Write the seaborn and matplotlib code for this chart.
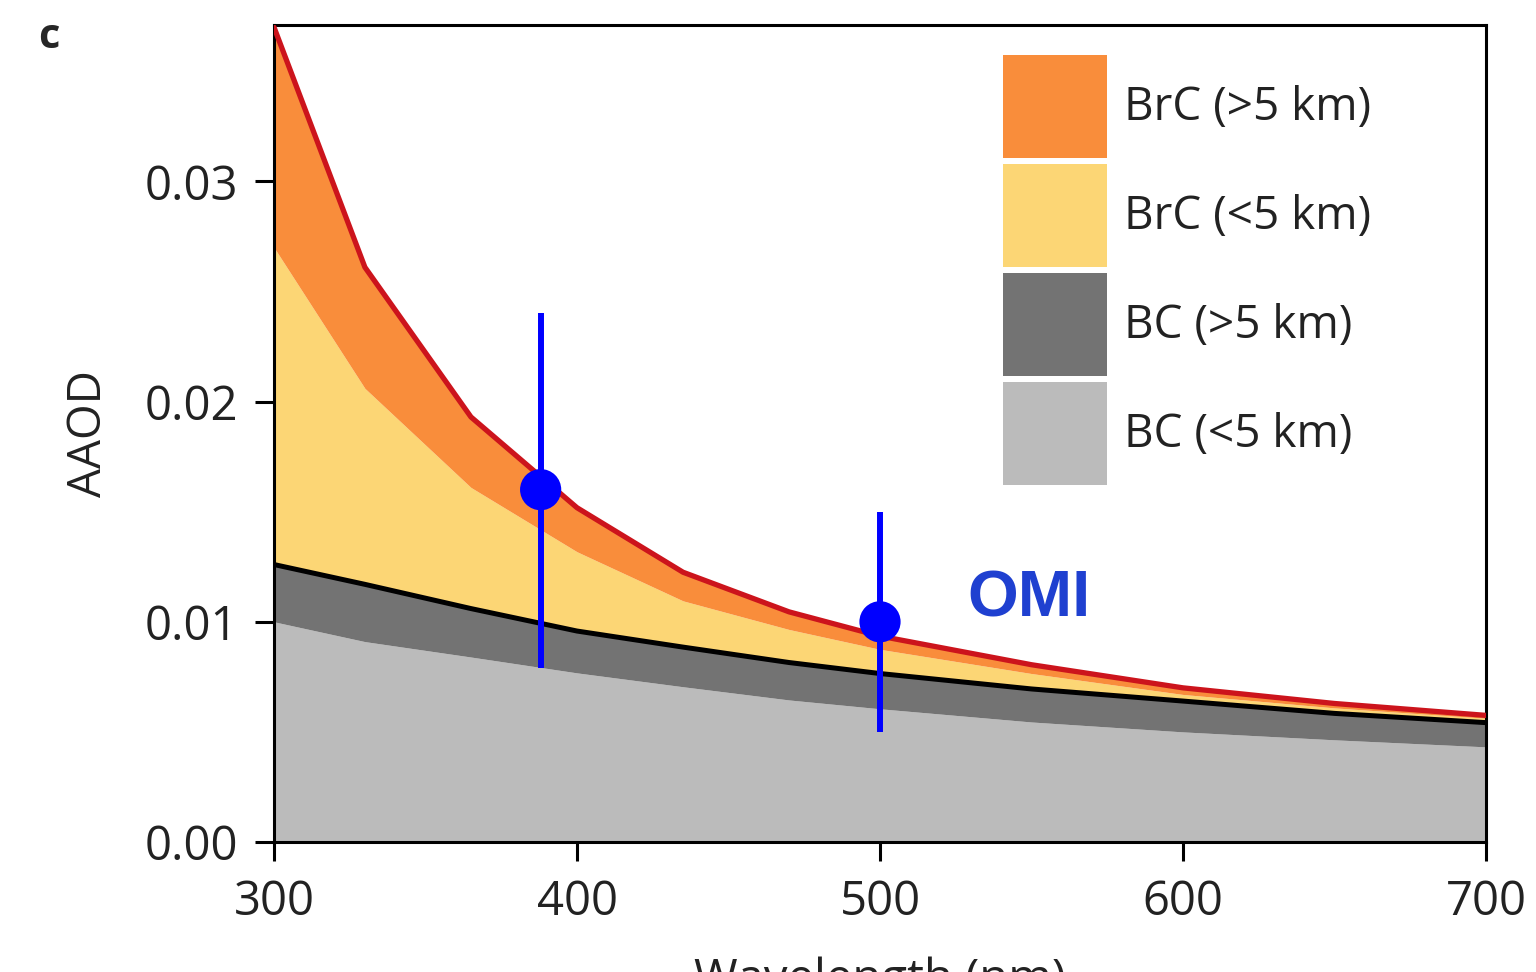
import numpy as np
import pandas as pd
import matplotlib
matplotlib.use("Agg")
import matplotlib.pyplot as plt
import seaborn as sns
from matplotlib.patches import Patch

# Absorption AOD contributions by species and altitude range
wavelength = [300, 330, 365, 400, 435, 470, 500, 550, 600, 650, 700]
bc_low = [0.0100, 0.0091, 0.0084, 0.00768, 0.00705, 0.00645, 0.00605, 0.00545, 0.0050, 0.00464, 0.00432]
bc_high = [0.0026, 0.0026, 0.0022, 0.0019, 0.0018, 0.0017, 0.0016, 0.0015, 0.0014, 0.0012, 0.0011]
brc_low = [0.0144, 0.0089, 0.0055, 0.0036, 0.0021, 0.0015, 0.0011, 0.0007, 0.0003, 0.00025, 0.0002]
brc_high = [0.0100, 0.0055, 0.0032, 0.0020, 0.0013, 0.0008, 0.0006, 0.0004, 0.0003, 0.0002, 0.00013]

# OMI retrievals with ranges
omi_wavelength = [388, 500]
omi_aaod = [0.016, 0.010]
omi_low = [0.0079, 0.0050]
omi_high = [0.0240, 0.0150]

layer_labels = ["BC (<5 km)", "BC (>5 km)", "BrC (<5 km)", "BrC (>5 km)"]
layer_colors = ["#bbbbbb", "#737373", "#fcd675", "#f98d3b"]

df = pd.DataFrame({
    "wavelength": wavelength,
    "BC (<5 km)": bc_low,
    "BC (>5 km)": bc_high,
    "BrC (<5 km)": brc_low,
    "BrC (>5 km)": brc_high,
})
df["bc_total"] = df["BC (<5 km)"] + df["BC (>5 km)"]
df["total"] = df[layer_labels].sum(axis=1)

sns.set_theme(style="ticks")
plt.rcParams["font.family"] = ["Open Sans", "DejaVu Sans"]

fig = plt.figure(figsize=(15.36, 9.72), dpi=100)
ax = fig.add_axes([274 / 1536, 1 - 842 / 972, (1486 - 274) / 1536, (842 - 25) / 972])

# stacked areas
base = np.zeros(len(df))
for lab, col in zip(layer_labels, layer_colors):
    top = base + df[lab].to_numpy()
    ax.fill_between(df["wavelength"], base, top, color=col, lw=0, zorder=1)
    base = top

sns.lineplot(data=df, x="wavelength", y="bc_total", color="black", lw=3.6, ax=ax, zorder=3)
sns.lineplot(data=df, x="wavelength", y="total", color="#cc141c", lw=3.8, ax=ax, zorder=3)

# OMI points with vertical ranges
omi = pd.DataFrame({"wavelength": omi_wavelength, "aaod": omi_aaod,
                    "lo": omi_low, "hi": omi_high})
ax.vlines(omi["wavelength"], omi["lo"], omi["hi"], color="#0000ff", lw=4.3, zorder=4)
sns.scatterplot(data=omi, x="wavelength", y="aaod", color="#0000ff", s=880,
                edgecolor="none", ax=ax, zorder=5)
ax.text(529, 0.0110, "OMI", color="#1f40d0", fontsize=47, fontweight="bold",
        family="Liberation Sans", ha="left", va="center")

ax.set_xlim(300, 700)
ax.set_ylim(0, 0.0371)
ax.set_xticks([300, 400, 500, 600, 700])
ax.set_yticks([0.0, 0.01, 0.02, 0.03])
ax.set_yticklabels(["0.00", "0.01", "0.02", "0.03"])
for s in ax.spines.values():
    s.set_visible(True)
    s.set_linewidth(2.2)
    s.set_color("black")
ax.tick_params(axis="both", direction="out", length=14, width=2.2, color="black",
               labelsize=34, labelcolor="#222222", pad=12)
ax.set_xlabel("Wavelength (nm)", fontsize=34, color="#222222", labelpad=22)
ax.set_ylabel("AAOD", fontsize=33, color="#222222", labelpad=23)

handles = [Patch(facecolor=c, edgecolor="none") for c in layer_colors][::-1]
leg = ax.legend(handles, layer_labels[::-1], loc="upper left",
                bbox_to_anchor=((1003 - 274) / 1212, (842 - 55) / 817),
                frameon=False, fontsize=33, handlelength=2.27, handleheight=3.08,
                labelspacing=0.13, handletextpad=0.38, borderpad=0, borderaxespad=0)
for t in leg.get_texts():
    t.set_color("#222222")

fig.text(38 / 1536, 1 - 38 / 972, "c", fontsize=30, fontweight="bold", va="center", ha="left")

fig.savefig("out.png", dpi=100)
